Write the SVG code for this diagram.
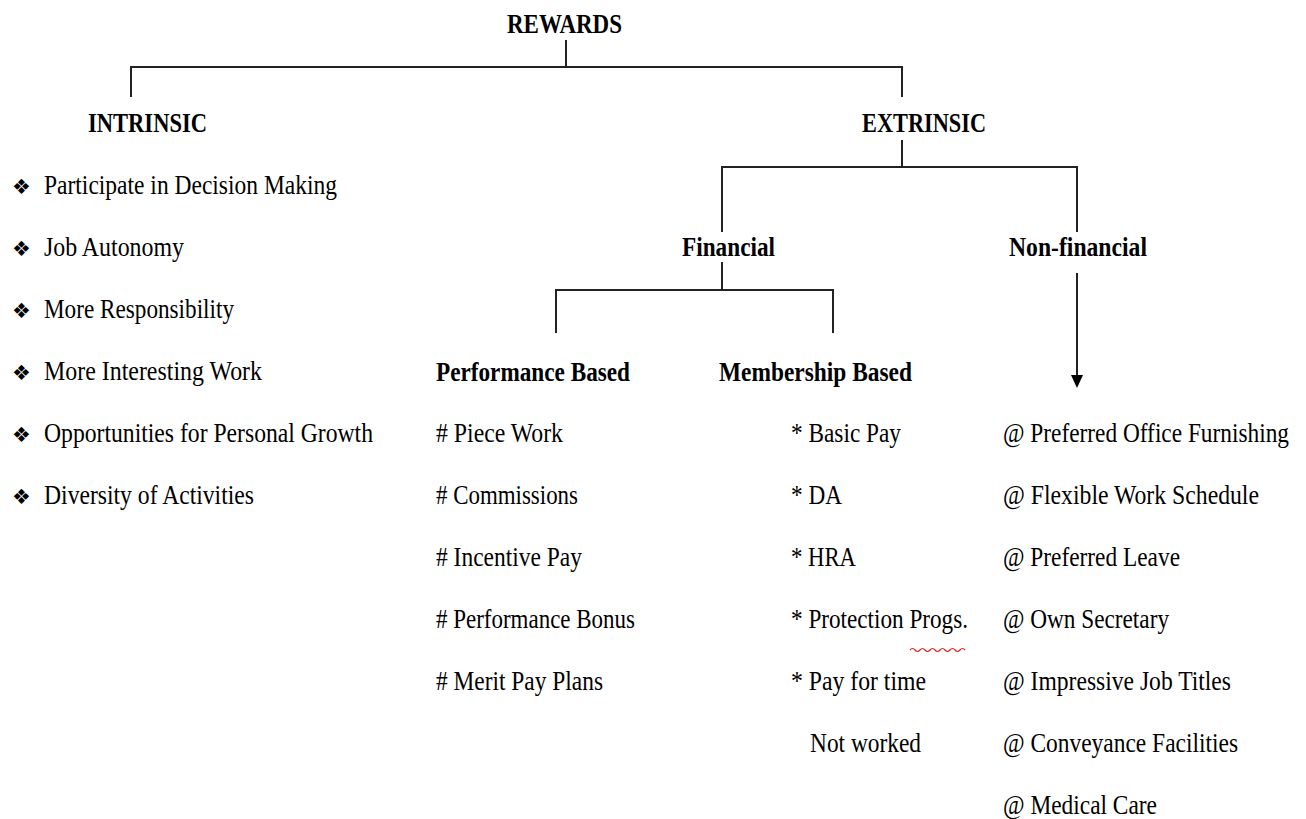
<svg xmlns="http://www.w3.org/2000/svg" width="1306" height="819" viewBox="0 0 1306 819">
<style>
text{font-family:"Liberation Serif","Times New Roman",serif;font-size:27px;fill:#000}
.h{font-weight:bold}
.b{font-family:"DejaVu Sans",sans-serif;font-size:21px}
.ln{stroke:#222;stroke-width:2;fill:none}
</style>
<g id="connectors">
<path class="ln" d="M566,40 V67 M131,97 V67 H902 V97"/>
<path class="ln" d="M902,140 V167 M722,232 V167 H1077 V232"/>
<path class="ln" d="M722,262 V290 M556,333 V290 H833 V333"/>
<line class="ln" x1="1077" y1="273" x2="1077" y2="376"/>
<path d="M1071,375 L1083,375 L1077,388 Z" fill="#000"/>
</g>
<g id="rewards"><text class="h" x="507" y="33" textLength="115" lengthAdjust="spacingAndGlyphs">REWARDS</text></g>
<g id="intrinsic"><text class="h" x="88" y="132" textLength="119" lengthAdjust="spacingAndGlyphs">INTRINSIC</text></g>
<g id="extrinsic"><text class="h" x="862" y="132" textLength="124" lengthAdjust="spacingAndGlyphs">EXTRINSIC</text></g>
<g id="financial"><text class="h" x="682" y="256" textLength="93" lengthAdjust="spacingAndGlyphs">Financial</text></g>
<g id="nonfinancial"><text class="h" x="1009" y="256" textLength="138" lengthAdjust="spacingAndGlyphs">Non-financial</text></g>
<g id="performance"><text class="h" x="436" y="381" textLength="194" lengthAdjust="spacingAndGlyphs">Performance Based</text></g>
<g id="membership"><text class="h" x="719" y="381" textLength="193" lengthAdjust="spacingAndGlyphs">Membership Based</text></g>
<g id="intrinsic-list">
<text class="b" x="12" y="194">❖</text><text x="44" y="194" textLength="293" lengthAdjust="spacingAndGlyphs">Participate in Decision Making</text>
<text class="b" x="12" y="256">❖</text><text x="44" y="256" textLength="140" lengthAdjust="spacingAndGlyphs">Job Autonomy</text>
<text class="b" x="12" y="318">❖</text><text x="44" y="318" textLength="190" lengthAdjust="spacingAndGlyphs">More Responsibility</text>
<text class="b" x="12" y="380">❖</text><text x="44" y="380" textLength="218" lengthAdjust="spacingAndGlyphs">More Interesting Work</text>
<text class="b" x="12" y="442">❖</text><text x="44" y="442" textLength="329" lengthAdjust="spacingAndGlyphs">Opportunities for Personal Growth</text>
<text class="b" x="12" y="504">❖</text><text x="44" y="504" textLength="210" lengthAdjust="spacingAndGlyphs">Diversity of Activities</text>
</g>
<g id="performance-list">
<text x="436" y="442" textLength="127" lengthAdjust="spacingAndGlyphs"># Piece Work</text>
<text x="436" y="504" textLength="142" lengthAdjust="spacingAndGlyphs"># Commissions</text>
<text x="436" y="566" textLength="146" lengthAdjust="spacingAndGlyphs"># Incentive Pay</text>
<text x="436" y="628" textLength="199" lengthAdjust="spacingAndGlyphs"># Performance Bonus</text>
<text x="436" y="690" textLength="167" lengthAdjust="spacingAndGlyphs"># Merit Pay Plans</text>
</g>
<g id="membership-list">
<text x="791" y="442" textLength="110" lengthAdjust="spacingAndGlyphs">* Basic Pay</text>
<text x="791" y="504" textLength="51" lengthAdjust="spacingAndGlyphs">* DA</text>
<text x="791" y="566" textLength="65" lengthAdjust="spacingAndGlyphs">* HRA</text>
<text x="791" y="628" textLength="177" lengthAdjust="spacingAndGlyphs">* Protection Progs.</text>
<path d="M910,650 q2.5,-3 5,0 t5,0 t5,0 t5,0 t5,0 t5,0 t5,0 t5,0 t5,0 t5,0 t5,0" fill="none" stroke="#e02020" stroke-width="1.2"/>
<text x="791" y="690" textLength="135" lengthAdjust="spacingAndGlyphs">* Pay for time</text>
<text x="810" y="752" textLength="111" lengthAdjust="spacingAndGlyphs">Not worked</text>
</g>
<g id="nonfinancial-list">
<text x="1003" y="442" textLength="286" lengthAdjust="spacingAndGlyphs">@ Preferred Office Furnishing</text>
<text x="1003" y="504" textLength="256" lengthAdjust="spacingAndGlyphs">@ Flexible Work Schedule</text>
<text x="1003" y="566" textLength="177" lengthAdjust="spacingAndGlyphs">@ Preferred Leave</text>
<text x="1003" y="628" textLength="166" lengthAdjust="spacingAndGlyphs">@ Own Secretary</text>
<text x="1003" y="690" textLength="228" lengthAdjust="spacingAndGlyphs">@ Impressive Job Titles</text>
<text x="1003" y="752" textLength="235" lengthAdjust="spacingAndGlyphs">@ Conveyance Facilities</text>
<text x="1003" y="814" textLength="154" lengthAdjust="spacingAndGlyphs">@ Medical Care</text>
</g>
</svg>
